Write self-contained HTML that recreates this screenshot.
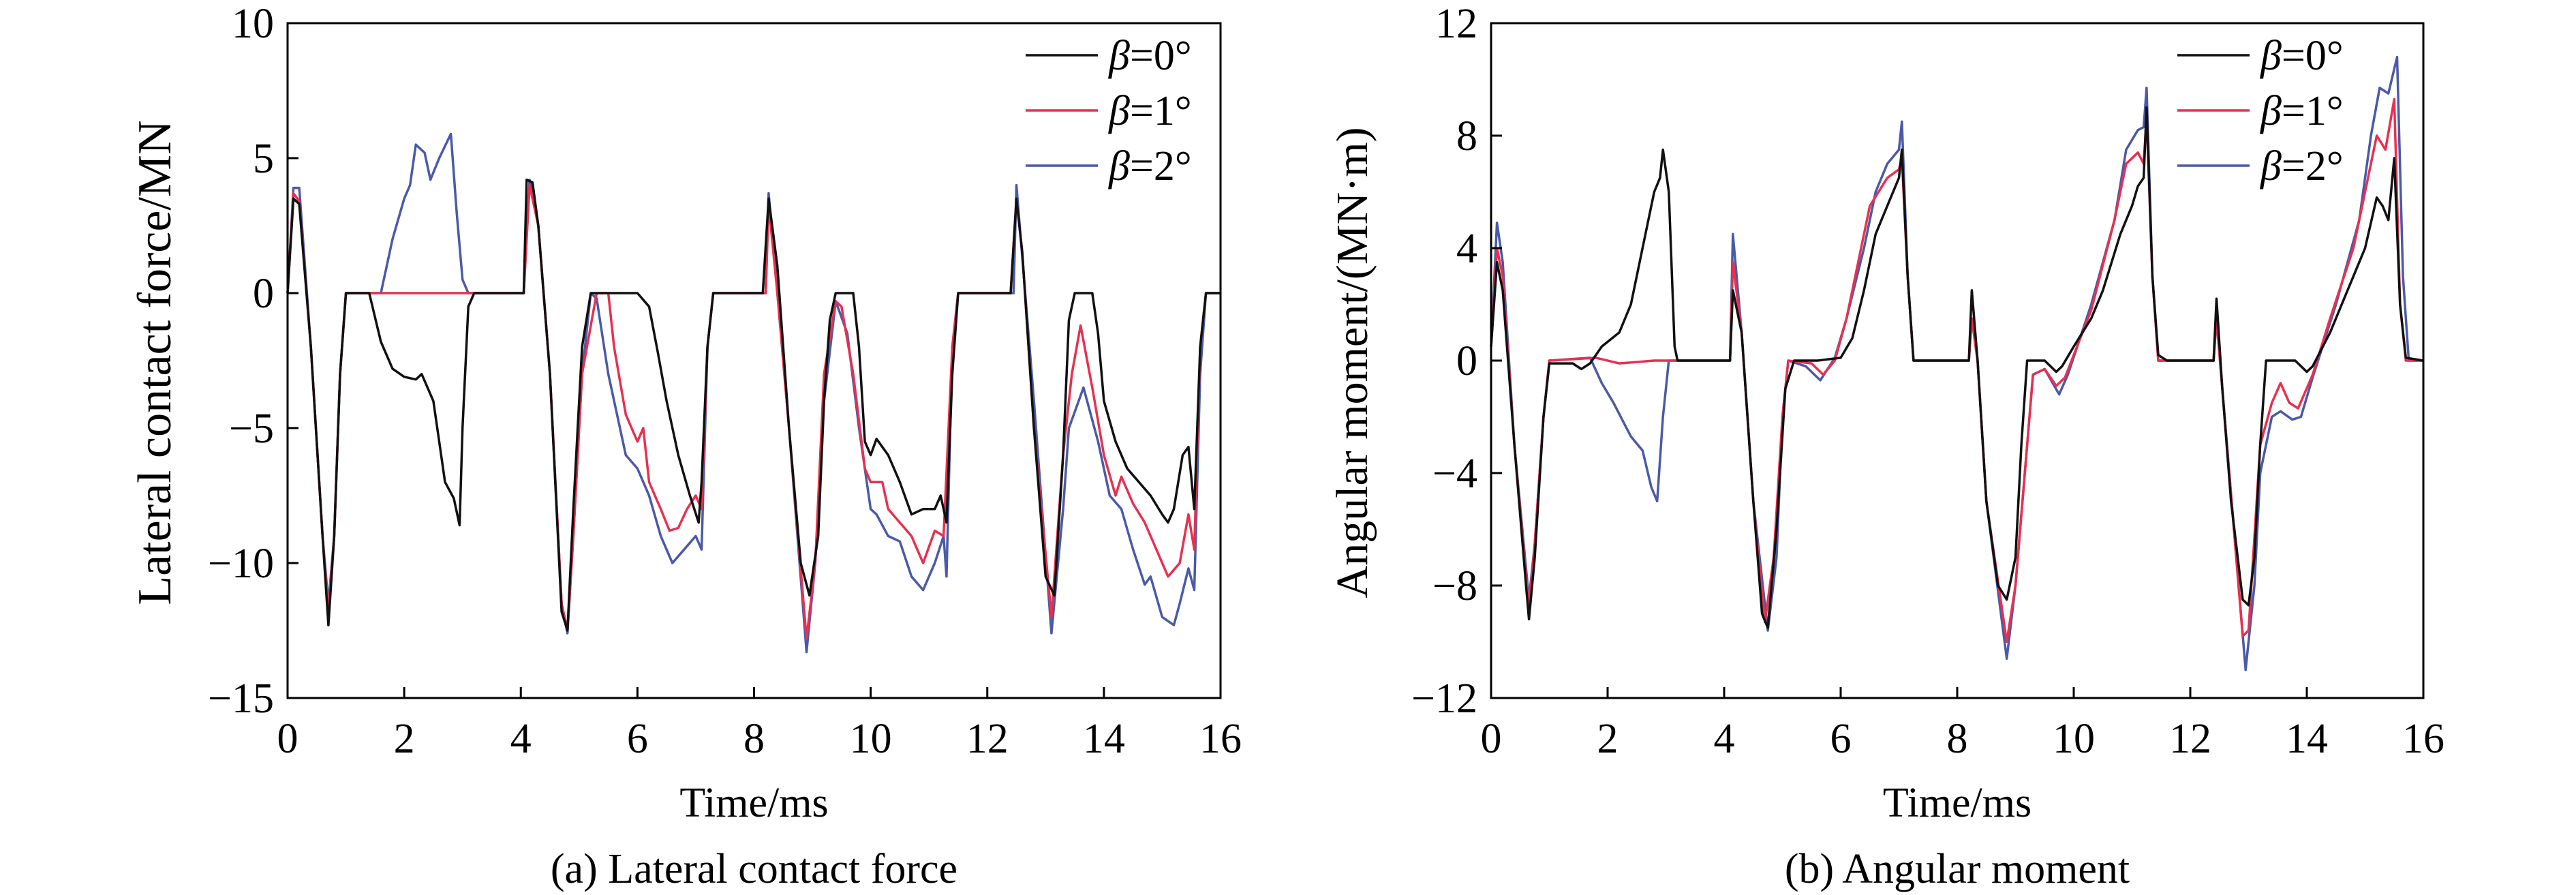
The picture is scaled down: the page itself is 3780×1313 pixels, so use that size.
<!DOCTYPE html>
<html><head><meta charset="utf-8"><style>
html,body{margin:0;padding:0;background:#fff;}
svg{display:block;font-family:"Liberation Serif",serif;}
</style></head><body>
<svg id="chart" width="3780" height="1313" viewBox="0 0 3780 1313" xmlns="http://www.w3.org/2000/svg"></svg>
<script>
// ---------- data: (a) lateral contact force ----------
const aT0=[0,0.1,0.2,0.4,0.6,0.7,0.8,0.9,1.0,1.4,1.6,1.8,2.0,2.2,2.3,2.5,2.6,2.7,2.85,2.95,3.0,3.1,3.2,4.05,4.1,4.2,4.3,4.5,4.7,4.8,4.9,5.05,5.2,6.0,6.2,6.35,6.5,6.7,6.9,7.05,7.1,7.2,7.3,8.15,8.25,8.4,8.6,8.8,8.95,9.1,9.2,9.3,9.4,9.7,9.8,9.9,10.0,10.1,10.3,10.5,10.7,10.9,11.1,11.2,11.3,11.4,11.5,12.4,12.5,12.6,12.8,13.0,13.15,13.3,13.4,13.5,13.8,13.9,14.0,14.2,14.4,14.6,14.8,15.0,15.1,15.2,15.35,15.45,15.55,15.65,15.75,16];
const aV0=[0,3.5,3.3,-2,-9,-12.3,-9,-3,0,0,-1.8,-2.8,-3.1,-3.2,-3.0,-4.0,-5.5,-7.0,-7.6,-8.6,-5,-0.5,0,0,4.2,4.1,2.5,-3,-11.8,-12.5,-8,-2,0,0,-0.5,-2.2,-4,-6,-7.5,-8.5,-7,-2,0,0,3.5,1,-5,-10,-11.2,-9,-4,-1,0,0,-2,-5.5,-6,-5.4,-6,-7,-8.2,-8,-8,-7.5,-8.5,-3,0,0,3.5,1.5,-5,-10.5,-11.2,-6,-1,0,0,-1.5,-4,-5.5,-6.5,-7,-7.5,-8.2,-8.5,-8,-6,-5.7,-8,-2,0,0];
const aT1=[0,0.1,0.2,0.4,0.6,0.7,0.8,0.9,1.0,4.05,4.15,4.3,4.5,4.7,4.8,4.9,5.05,5.3,5.5,5.6,5.8,6.0,6.1,6.2,6.4,6.55,6.7,6.85,7.0,7.1,7.2,7.3,8.2,8.25,8.4,8.6,8.9,9.05,9.2,9.4,9.5,9.7,9.9,10.0,10.2,10.3,10.5,10.7,10.9,11.1,11.25,11.4,11.5,12.4,12.5,12.6,12.8,13.1,13.3,13.45,13.6,13.8,14.0,14.2,14.3,14.5,14.7,14.9,15.1,15.3,15.45,15.55,15.65,15.75,16];
const aV1=[0,3.7,3.4,-2,-9,-11.8,-9,-3,0,0,4.0,2.5,-3,-11.5,-12.5,-9,-3,0,0,-2,-4.5,-5.5,-5,-7,-8,-8.8,-8.7,-8,-7.5,-8,-2,0,0,3.3,0,-5,-12.8,-10,-3,-0.3,-0.5,-3,-6.5,-7,-7,-8,-8.5,-9,-10,-8.8,-9,-2,0,0,3.5,1.5,-5,-12,-6,-3,-1.2,-3.5,-6,-7.5,-6.8,-7.8,-8.5,-9.5,-10.5,-10,-8.2,-9.5,-2,0,0];
const aT2=[0,0.1,0.2,0.4,0.6,0.7,0.8,0.9,1.0,1.6,1.8,2.0,2.1,2.2,2.35,2.45,2.6,2.8,2.9,3.0,3.1,4.05,4.15,4.3,4.5,4.7,4.8,4.9,5.05,5.2,5.3,5.5,5.8,6.0,6.2,6.4,6.6,6.8,7.0,7.1,7.2,7.3,8.2,8.25,8.4,8.6,8.9,9.05,9.2,9.4,9.6,9.8,10.0,10.1,10.3,10.5,10.7,10.9,11.1,11.25,11.3,11.4,11.5,12.45,12.5,12.8,13.1,13.3,13.4,13.65,13.9,14.1,14.3,14.5,14.7,14.8,15.0,15.2,15.3,15.45,15.55,15.65,15.75,16];
const aV2=[0,3.9,3.9,-2,-9,-11.5,-9,-3,0,0,2,3.5,4,5.5,5.2,4.2,5,5.9,3,0.5,0,0,4.2,2.5,-3,-11.5,-12.6,-9,-3,0,-0.2,-3,-6,-6.5,-7.5,-9,-10,-9.5,-9,-9.5,-2,0,0,3.7,0,-5,-13.3,-10,-4,-0.3,-1.5,-5,-8,-8.2,-9,-9.2,-10.5,-11,-10,-9,-10.5,-2,0,0,4,-4,-12.6,-8,-5,-3.5,-5.5,-7.5,-8,-9.5,-10.8,-10.5,-12,-12.3,-11.5,-10.2,-11,-3,0,0];
// ---------- data: (b) angular moment ----------
const bT0=[0,0.1,0.2,0.4,0.6,0.65,0.75,0.9,1.0,1.4,1.55,1.7,1.9,2.2,2.4,2.55,2.7,2.8,2.9,2.95,3.05,3.15,3.2,4.1,4.15,4.3,4.5,4.65,4.75,4.9,5.05,5.2,5.6,6.0,6.2,6.4,6.6,6.8,7.0,7.05,7.15,7.25,8.2,8.25,8.35,8.5,8.7,8.85,9.0,9.1,9.2,9.5,9.7,9.8,10.0,10.3,10.5,10.8,11.0,11.1,11.2,11.25,11.35,11.45,11.6,12.4,12.45,12.55,12.7,12.9,13.0,13.1,13.2,13.3,13.8,14.0,14.1,14.4,14.7,15.0,15.2,15.3,15.4,15.5,15.6,15.7,16];
const bV0=[0.5,3.5,2.5,-3,-8,-9.2,-7,-2,-0.1,-0.1,-0.3,-0.1,0.5,1.0,2,3.5,5,6,6.5,7.5,6,0.5,0,0,2.5,1,-5,-9,-9.5,-6,-1,0,0,0.1,0.8,2.5,4.5,5.5,6.5,7.5,3,0,0,2.5,0,-5,-8,-8.5,-7,-3,0,0,-0.4,-0.2,0.5,1.5,2.5,4.5,5.5,6.2,6.5,9,3,0.2,0,0,2.2,-1,-5,-8.5,-8.7,-7,-3,0,0,-0.4,-0.2,1,2.5,4.0,5.8,5.5,5,7.2,2,0.1,0];
const bT1=[0,0.1,0.2,0.4,0.65,0.75,0.9,1.0,1.8,2.2,2.8,3.2,4.1,4.15,4.3,4.5,4.7,4.85,5.0,5.1,5.5,5.7,5.9,6.1,6.3,6.5,6.8,7.0,7.05,7.15,7.25,8.2,8.25,8.35,8.5,8.85,9.0,9.3,9.5,9.7,9.85,10.3,10.7,10.9,11.1,11.2,11.25,11.35,11.45,12.4,12.45,12.55,12.9,13.0,13.2,13.4,13.55,13.7,13.85,14.1,14.4,14.8,15.0,15.2,15.35,15.5,15.6,15.7,16];
const bV1=[0.5,4,3,-3,-8.8,-6.5,-2,0,0.1,-0.1,0,0,0,3.5,1,-5,-9.3,-7,-2,0,-0.1,-0.5,0,1.5,3.5,5.5,6.5,6.8,7.2,3,0,0,1.5,0,-5,-10,-8,-0.5,-0.3,-0.9,-0.6,1.8,5,7,7.4,7,8.7,3,0,0,1.5,-1,-9.8,-9.6,-3,-1.5,-0.8,-1.5,-1.7,-0.5,1.5,4,6,8,7.5,9.3,2,0,0];
const bT2=[0,0.1,0.2,0.4,0.65,0.75,0.9,1.0,1.7,1.9,2.1,2.4,2.6,2.75,2.85,2.95,3.05,4.1,4.15,4.3,4.5,4.75,4.9,5.0,5.1,5.4,5.65,5.9,6.1,6.4,6.6,6.8,7.0,7.05,7.15,7.25,8.2,8.25,8.35,8.5,8.85,9.0,9.3,9.5,9.75,9.9,10.3,10.7,10.9,11.1,11.2,11.25,11.35,11.45,12.4,12.45,12.55,12.95,13.1,13.2,13.4,13.55,13.75,13.9,14.1,14.5,14.9,15.1,15.25,15.4,15.55,15.65,15.75,16];
const bV2=[0.5,4.9,3.5,-3,-8.5,-6.5,-2,0,0.1,-0.8,-1.5,-2.7,-3.2,-4.5,-5,-2,0,0,4.5,1,-5,-9.6,-7,-2,0,-0.2,-0.7,0.1,1.5,4,6,7,7.5,8.5,3,0,0,1.5,0,-5,-10.6,-8,-0.5,-0.3,-1.2,-0.5,2,5,7.5,8.2,8.3,9.7,3,0,0,1.5,-1,-11,-8,-4,-2,-1.8,-2.1,-2,-0.6,2,5,8,9.7,9.5,10.8,3,0,0];
const xTicks=[0,2,4,6,8,10,12,14,16];
const aYTicks=[10,5,0,-5,-10,-15];
const bYTicks=[12,8,4,0,-4,-8,-12];
const legendLabels=['0','1','2'];

const NS='http://www.w3.org/2000/svg';
const svg=document.getElementById('chart');
function mk(tag,attrs,parent){const e=document.createElementNS(NS,tag);for(const k in attrs)e.setAttribute(k,attrs[k]);(parent||svg).appendChild(e);return e;}
const colors=['#111111','#e8304f','#4a5aa8'];

function panel(p){
  const g=mk('g',{});
  
  
  const X=t=>p.x0+(t-0)/16*(p.x1-p.x0);
  const Y=v=>p.y1-(v-p.ymin)/(p.ymax-p.ymin)*(p.y1-p.y0);
  const order=[2,1,0];
  order.forEach(i=>{
    const T=p.T[i],V=p.V[i];
    const pts=T.map((t,j)=>X(t).toFixed(1)+','+Y(V[j]).toFixed(1)).join(' ');
    const pl=mk('polyline',{points:pts,fill:'none',stroke:colors[i],'stroke-width':3.5,'stroke-linejoin':'round'},g);
    
    
  });
  const fr=mk('rect',{x:p.x0,y:p.y0,width:p.x1-p.x0,height:p.y1-p.y0,fill:'none',stroke:'#000','stroke-width':3},g);
  
  
  xTicks.forEach(t=>{
    const tk=mk('line',{x1:X(t),x2:X(t),y1:p.y1,y2:p.y1-16,stroke:'#000','stroke-width':3},g);
    
    
    const tx=mk('text',{x:X(t),y:p.y1+80,'font-size':62,'text-anchor':'middle'},g);
    tx.textContent=t;
    
    
  });
  p.yt.forEach(v=>{
    const tk=mk('line',{x1:p.x0,x2:p.x0+16,y1:Y(v),y2:Y(v),stroke:'#000','stroke-width':3},g);
    
    
    const tx=mk('text',{x:p.x0-20,y:Y(v)+21,'font-size':62,'text-anchor':'end'},g);
    tx.textContent=(v<0?'\u2212'+(-v):v);
    
    
  });
  const xt=mk('text',{x:(p.x0+p.x1)/2,y:1198,'font-size':62,'text-anchor':'middle'},g);
  xt.textContent='Time/ms';
  
  
  const yt=mk('text',{x:0,y:0,'font-size':p.yfs,'text-anchor':'middle',transform:'translate('+p.ytx+',532) rotate(-90)'},g);
  yt.textContent=p.ytitle;
  
  
  const cap=mk('text',{x:(p.x0+p.x1)/2,y:1295,'font-size':62,'text-anchor':'middle'},g);
  cap.textContent=p.caption;
  
  
  const lg=mk('g',{},g);
  
  
  [81,162,243].forEach((ly,i)=>{
    const e=mk('g',{},lg);
    
    
    mk('line',{x1:p.lx,x2:p.lx+106,y1:ly,y2:ly,stroke:colors[i],'stroke-width':3.5},e);
    const tx=mk('text',{x:p.lx+122,y:ly+21,'font-size':62},e);
    const it=mk('tspan',{'font-style':'italic'},tx);it.textContent='\u03b2';
    const r=mk('tspan',{},tx);r.textContent='='+legendLabels[i]+'\u00b0';
  });
}
panel({id:'force',x0:422,x1:1791,y0:34,y1:1024,ymin:-15,ymax:10,yt:aYTicks,T:[aT0,aT1,aT2],V:[aV0,aV1,aV2],ytitle:'Lateral contact force/MN',ytx:250,yfs:70,caption:'(a) Lateral contact force',lx:1505});
panel({id:'moment',x0:2188,x1:3556,y0:34,y1:1024,ymin:-12,ymax:12,yt:bYTicks,T:[bT0,bT1,bT2],V:[bV0,bV1,bV2],ytitle:'Angular moment/(MN\u00b7m)',ytx:2006,yfs:66,caption:'(b) Angular moment',lx:3195});
</script>
</body></html>
